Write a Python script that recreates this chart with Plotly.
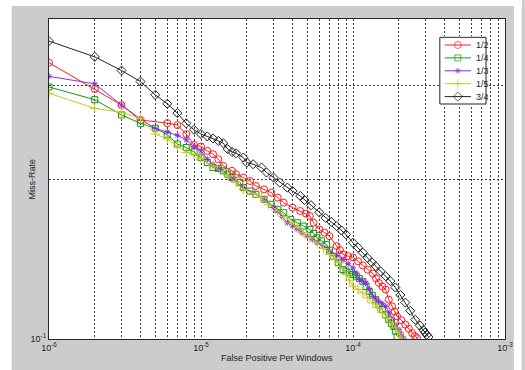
import math
import plotly.graph_objects as go

# ---------------- data ----------------
N_WINDOWS = 1e6  # false positives are counted per 1e6 windows

labels = ["1/2", "1/4", "1/3", "1/5", "3/4"]
colors = ["#ff1a1a", "#119911", "#8a2be2", "#c8c820", "#222222"]
symbols = ["circle-open", "square-open", "asterisk-open", "cross-thin-open", "diamond-open"]
msizes = [7, 6, 5, 7, 7]

fp_half = [1, 2, 3, 4, 6, 7, 8, 9, 10, 11, 12, 13, 14, 16, 17, 19, 21, 23, 26, 29, 32, 35, 40, 45,
           49, 52, 55, 60, 65, 70, 78, 82, 86, 93, 100, 108, 116, 125, 135, 142, 148, 156, 164, 172,
           181, 188, 195, 208, 221, 233, 245, 255, 264]
miss_half = [0.331, 0.2954, 0.2755, 0.2582, 0.2548, 0.2526, 0.2429, 0.2318, 0.2302, 0.2259, 0.2227,
             0.2179, 0.2117, 0.2072, 0.2042, 0.2012, 0.1983, 0.1940, 0.1912, 0.1885, 0.1845, 0.1805,
             0.1767, 0.1741, 0.1722, 0.1704, 0.1655, 0.1608, 0.1585, 0.1561, 0.1496, 0.1470, 0.1442,
             0.1432, 0.1424, 0.1400, 0.1375, 0.1350, 0.1328, 0.1300, 0.1275, 0.1255, 0.1239, 0.1186,
             0.1152, 0.1125, 0.1103, 0.1085, 0.1064, 0.1045, 0.1026, 0.1013, 0.1004]

fp_quarter = [1, 2, 3, 4, 5, 6, 7, 8, 9, 10, 11, 12, 13, 14, 15, 16, 18, 19, 21, 23, 26, 29, 32, 35,
              39, 43, 47, 52, 55, 58, 62, 67, 70, 74, 80, 86, 90, 95, 100, 105, 110, 116, 122, 128,
              134, 141, 148, 156, 164, 172, 179, 186, 190, 195]
miss_quarter = [0.298, 0.282, 0.264, 0.2545, 0.2493, 0.2422, 0.2326, 0.2293, 0.2249, 0.2196, 0.2148,
                0.2102, 0.2095, 0.2072, 0.2042, 0.2012, 0.1969, 0.1927, 0.1898, 0.1872, 0.1832,
                0.1792, 0.1754, 0.1728, 0.1679, 0.1655, 0.1631, 0.1608, 0.1580, 0.1550, 0.1530,
                0.1506, 0.1470, 0.1432, 0.1391, 0.1351, 0.1342, 0.1332, 0.1322, 0.1313, 0.1300,
                0.1284, 0.1255, 0.1229, 0.1208, 0.1186, 0.1160, 0.1136, 0.1110, 0.1087, 0.1070,
                0.1056, 0.1035, 0.1011]

fp_third = [1, 2, 3, 4, 5, 6, 7, 8, 9, 10, 11, 12, 13, 16, 19, 22, 26, 30, 32, 34, 37, 40, 43, 46,
            50, 54, 58, 64, 70, 78, 86, 93, 100, 105, 110, 116, 122, 128, 135, 141, 148, 156, 164,
            173, 182, 191, 201, 208, 215]
miss_third = [0.312, 0.302, 0.2755, 0.2593, 0.249, 0.2454, 0.2417, 0.237, 0.230, 0.2259, 0.2179,
              0.213, 0.2087, 0.1998, 0.1927, 0.1885, 0.1832, 0.1767, 0.1739, 0.1700, 0.1655, 0.1630,
              0.1608, 0.1585, 0.1561, 0.1540, 0.1517, 0.1490, 0.1463, 0.1437, 0.1411, 0.1385,
              0.1361, 0.1330, 0.1294, 0.1285, 0.1275, 0.1240, 0.1203, 0.1190, 0.1177, 0.1165,
              0.1152, 0.1120, 0.1087, 0.1064, 0.1041, 0.1022, 0.1004]

fp_fifth = [1, 2, 3, 4, 5, 6, 7, 8, 9, 10, 12, 15, 17, 19, 22, 25, 28, 32, 35, 39, 43, 47, 52, 58,
            64, 70, 76, 82, 90, 95, 100, 108, 116, 125, 135, 145, 156, 168, 182, 191, 201, 210]
miss_fifth = [0.290, 0.2716, 0.267, 0.260, 0.243, 0.2377, 0.2306, 0.2244, 0.2227, 0.2186, 0.2117,
              0.2027, 0.1970, 0.1912, 0.1880, 0.1845, 0.1790, 0.1741, 0.1700, 0.1655, 0.1620,
              0.1585, 0.1550, 0.1517, 0.1480, 0.1442, 0.1415, 0.1391, 0.1322, 0.1290, 0.1257,
              0.1240, 0.1221, 0.1195, 0.1169, 0.1145, 0.1120, 0.1095, 0.1072, 0.1050, 0.1026, 0.1004]

fp_3q = [1, 2, 3, 4, 5, 6, 7, 8, 9, 10, 11, 12, 13, 14, 15, 16, 17, 19, 20, 22, 25, 27, 30, 33, 37,
         40, 45, 48, 53, 60, 66, 72, 78, 84, 90, 100, 108, 116, 125, 133, 141, 152, 164, 176, 190,
         205, 221, 238, 257, 275, 290, 298, 306, 314]
miss_3q = [0.3635, 0.3395, 0.320, 0.305, 0.288, 0.277, 0.266, 0.2545, 0.2475, 0.243, 0.2405,
           0.2384, 0.2359, 0.2336, 0.2276, 0.2249, 0.2236, 0.2195, 0.2148, 0.2132, 0.2102, 0.2057,
           0.2012, 0.1969, 0.1927, 0.1898, 0.1858, 0.1826, 0.1785, 0.1731, 0.1690, 0.1660, 0.1631,
           0.1600, 0.1573, 0.1517, 0.1485, 0.1453, 0.1420, 0.1395, 0.1371, 0.1340, 0.1313, 0.1285,
           0.1250, 0.1210, 0.1171, 0.1130, 0.1087, 0.1060, 0.1040, 0.1028, 0.1018, 0.1009]

series_fp = [fp_half, fp_quarter, fp_third, fp_fifth, fp_3q]
series_miss = [miss_half, miss_quarter, miss_third, miss_fifth, miss_3q]

x_decades = [-6, -5, -4, -3]
y_major = [0.1]
y_major_labels = ["10<sup>-1</sup>"]
y_minor = [0.2, 0.3, 0.4]

# ---------------- figure ----------------
fig = go.Figure()

for fp, miss, name, col, sym, ms in zip(series_fp, series_miss, labels, colors, symbols, msizes):
    fig.add_trace(go.Scatter(
        x=[k / N_WINDOWS for k in fp], y=miss, name=name, mode="lines+markers",
        line=dict(color=col, width=1),
        marker=dict(symbol=sym, size=ms, color=col, line=dict(color=col, width=1)),
        showlegend=False, xaxis="x", yaxis="y"))

x_major = [10.0 ** d for d in x_decades]
x_major_labels = ["10<sup>%d</sup>" % d for d in x_decades]
x_minor = [m * 10.0 ** d for d in x_decades[:-1] for m in range(2, 10)]

GRID_COL, GRID_DASH = "#3a3a3a", "2px,2px"
FONT = dict(family="Liberation Sans, Arial", size=9, color="#222")
common = dict(showgrid=True, gridcolor=GRID_COL, gridwidth=1, griddash=GRID_DASH,
              showline=True, linecolor="#262626", linewidth=1, mirror=True, ticks="",
              zeroline=False, tickfont=FONT)

L, R, T, B = 49, 12, 19, 31
W, H = 525, 370
PW, PH = W - L - R, H - T - B

fig.update_layout(
    width=W, height=H, margin=dict(l=L, r=R, t=T, b=B, pad=0),
    paper_bgcolor="#cccccc", plot_bgcolor="white", showlegend=False,
    xaxis=dict(type="log", range=[-6, -3], tickmode="array", tickvals=x_major, ticktext=x_major_labels,
               minor=dict(tickmode="array", tickvals=x_minor, showgrid=True, gridcolor=GRID_COL,
                          griddash=GRID_DASH, gridwidth=1, ticks=""),
               **common),
    yaxis=dict(type="log", range=[-1, math.log10(0.4)], tickmode="array", tickvals=y_major,
               ticktext=y_major_labels,
               minor=dict(tickmode="array", tickvals=y_minor, showgrid=True, gridcolor=GRID_COL,
                          griddash=GRID_DASH, gridwidth=1, ticks=""),
               **common),
)

# ---------------- custom legend (MATLAB-like) ----------------
box_l, box_r, box_t, box_b = 446.7, 493.7, 37.3, 104.0  # pixel box of the legend
bw, bh = box_r - box_l, box_b - box_t
fig.update_layout(
    xaxis2=dict(domain=[(box_l - 1 - L) / PW, (box_r + 1 - L) / PW], range=[-1, bw + 1],
                visible=False, anchor="y2", fixedrange=True),
    yaxis2=dict(domain=[(H - B - box_b - 1) / PH, (H - B - box_t + 1) / PH], range=[bh + 1, -1],
                visible=False, anchor="x2", fixedrange=True),
)
fig.add_trace(go.Scatter(x=[0, bw, bw, 0, 0], y=[0, 0, bh, bh, 0], mode="lines", fill="toself",
                         fillcolor="white", line=dict(color="#222", width=1), hoverinfo="skip",
                         showlegend=False, xaxis="x2", yaxis="y2"))
row0, rowstep = 7.7, 12.9
for i, (name, col, sym, ms) in enumerate(zip(labels, colors, symbols, msizes)):
    yy = row0 + rowstep * i
    fig.add_trace(go.Scatter(x=[5, 18.3, 31.6], y=[yy, yy, yy], mode="lines+markers",
                             line=dict(color=col, width=1),
                             marker=dict(symbol=sym, size=[0, ms, 0], color=col, line=dict(color=col, width=1)),
                             hoverinfo="skip", showlegend=False, xaxis="x2", yaxis="y2"))
    fig.add_annotation(x=35, y=yy, xref="x2", yref="y2", text=name, showarrow=False,
                       xanchor="left", yanchor="middle", font=FONT)

# axis titles
fig.add_annotation(x=0.5, y=0, xref="paper", yref="paper", yshift=-19, text="False Positive Per Windows",
                   showarrow=False, xanchor="center", yanchor="middle", font=FONT)
fig.add_annotation(x=0, y=0.5, xref="paper", yref="paper", xshift=-17.5, text="Miss-Rate", textangle=-90,
                   showarrow=False, xanchor="center", yanchor="middle", font=FONT)

# white page border around the grey MATLAB figure
def px_x(p):
    return (p - L) / PW

def px_y(p):
    return (H - B - p) / PH

for x0, x1, y0, y1 in [(-5, 525 + 5, -5, 6), (-5, 11, -5, 375), (522, 530, -5, 375)]:
    fig.add_shape(type="rect", xref="paper", yref="paper", x0=px_x(x0), x1=px_x(x1),
                  y0=px_y(y1), y1=px_y(y0), fillcolor="white", line=dict(width=0), layer="above")

fig.write_html("out.html", config={"displayModeBar": False, "staticPlot": True},
               post_script="document.body.style.margin='0px';document.body.style.overflow='hidden';")
